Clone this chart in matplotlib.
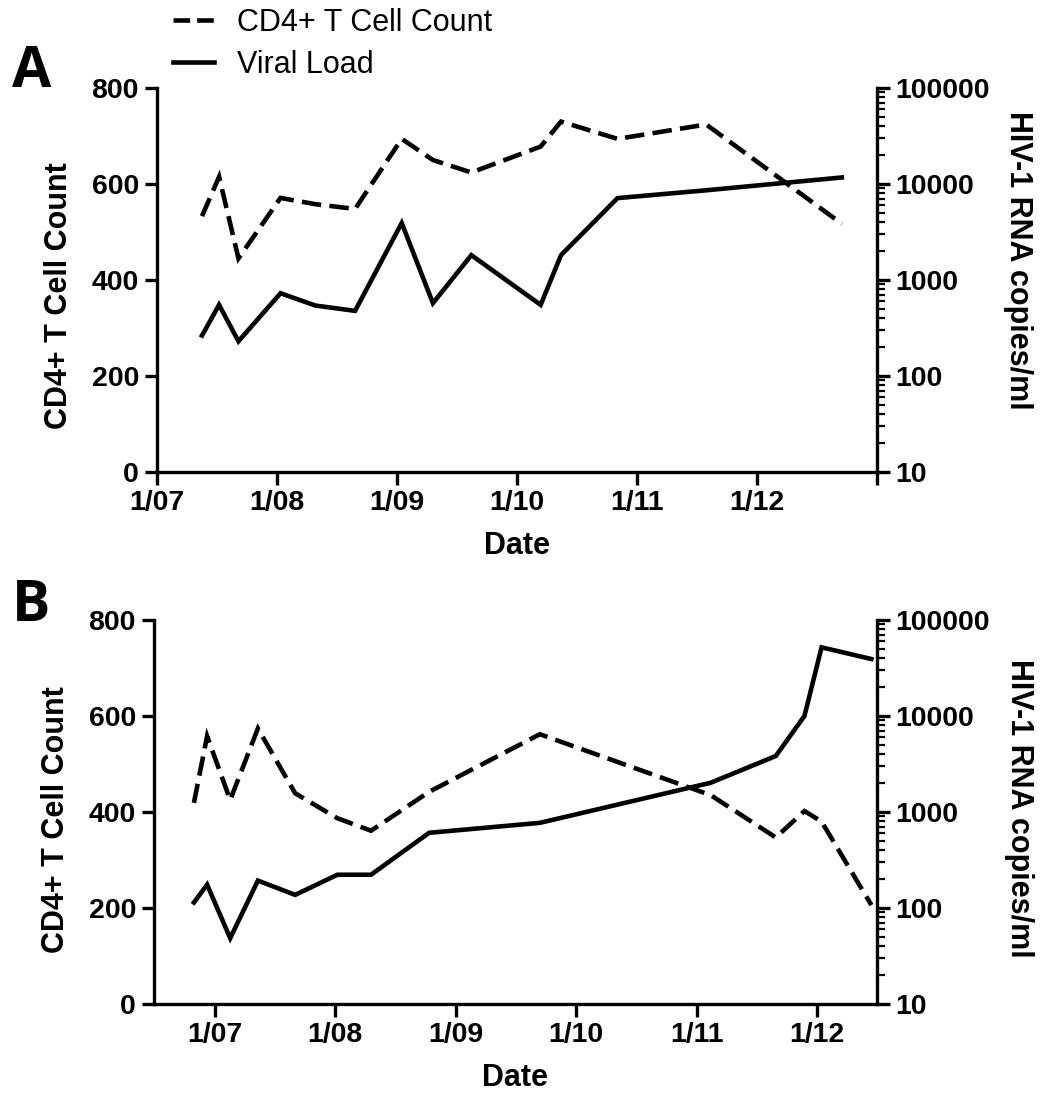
import matplotlib
matplotlib.use('Agg')
import matplotlib.pyplot as plt
import matplotlib.ticker as mticker
from matplotlib.lines import Line2D
import pandas as pd

plt.rcParams['font.family'] = ['Liberation Sans', 'DejaVu Sans']
plt.rcParams['lines.scale_dashes'] = False

# ---------------- data ----------------
a_dates = ['2007-05-18', '2007-07-09', '2007-09-06', '2008-01-12', '2008-04-27',
           '2008-08-26', '2009-01-15', '2009-04-20', '2009-08-15', '2010-03-14',
           '2010-05-15', '2010-11-03', '2011-07-31', '2012-09-16']
a_cd4 = [533, 615, 445, 571, 558, 548, 694, 650, 624, 678, 730, 694, 724, 517]
a_vl = [264, 551, 230, 728, 542, 477, 3925, 574, 1815, 551, 1815, 7130, 8600, 11700]

b_dates = ['2006-10-30', '2006-12-09', '2007-02-17', '2007-05-12', '2007-09-02',
           '2008-01-08', '2008-04-19', '2008-10-12', '2009-09-13', '2011-02-13',
           '2011-08-29', '2011-11-24', '2012-01-15', '2012-06-14']
b_cd4 = [419, 558, 425, 574, 439, 387, 361, 442, 562, 435, 347, 402, 380, 206]
b_vl = [114, 175, 48.5, 193, 137, 222, 222, 607, 771, 2018, 3828, 10000, 51900, 39200]

a_xlim = ['2007-01-01', '2013-01-01']
b_xlim = ['2006-07-01', '2012-07-01']
a_xticks = ['2007-01-01', '2008-01-01', '2009-01-01', '2010-01-01', '2011-01-01',
            '2012-01-01', '2013-01-01']
a_xticklabels = ['1/07', '1/08', '1/09', '1/10', '1/11', '1/12', '']
b_xticks = ['2007-01-01', '2008-01-01', '2009-01-01', '2010-01-01', '2011-01-01',
            '2012-01-01']
b_xticklabels = ['1/07', '1/08', '1/09', '1/10', '1/11', '1/12']
cd4_ticks = [0, 200, 400, 600, 800]
vl_ticks = [10, 100, 1000, 10000, 100000]
vl_ticklabels = ['10', '100', '1000', '10000', '100000']

legend_labels = ['CD4+ T Cell Count', 'Viral Load']
panel_labels = ['A', 'B']

# ---------------- style ----------------
W, H = 1043, 1096
fig = plt.figure(figsize=(W / 100, H / 100), dpi=100)

LW = 3.3
SPW = 2.4
DASH = (14, 6)
TICKFS = 20.5
LABFS = 22


def make_panel(rect, dates, cd4, vl, xlim, xticks, xticklabels,
               ylab_y, y2lab_y, letter, letter_pos):
    ax = fig.add_axes(rect)
    ax2 = ax.twinx()
    d = pd.to_datetime(dates)
    l1, = ax.plot(d, cd4, color='black', lw=LW, ls=(0, DASH),
                  solid_joinstyle='miter', dash_joinstyle='miter')
    l2, = ax2.plot(d, vl, color='black', lw=LW, solid_joinstyle='miter')
    ax.set_xlim(pd.to_datetime(xlim[0]), pd.to_datetime(xlim[1]))
    ax.set_ylim(0, 800)
    ax.set_yticks(cd4_ticks)
    ax.set_xticks(pd.to_datetime(xticks))
    ax.set_xticklabels(xticklabels)
    ax2.set_yscale('log')
    ax2.set_ylim(10, 100000)
    ax2.yaxis.set_major_locator(mticker.FixedLocator(vl_ticks))
    ax2.yaxis.set_major_formatter(mticker.FixedFormatter(vl_ticklabels))
    ax2.yaxis.set_minor_locator(mticker.LogLocator(base=10, subs=range(2, 10), numticks=20))
    ax2.yaxis.set_minor_formatter(mticker.NullFormatter())

    for a in (ax, ax2):
        a.spines['top'].set_visible(False)
        for s in a.spines.values():
            s.set_linewidth(SPW)
        a.tick_params(which='major', direction='out', length=9, width=SPW,
                      labelsize=TICKFS, pad=4)
        a.tick_params(which='minor', direction='out', length=5.5, width=1.6)
    ax.spines['right'].set_visible(False)
    ax2.spines['left'].set_visible(False)
    ax2.spines['bottom'].set_visible(False)
    for t in ax.get_xticklabels() + ax.get_yticklabels() + ax2.get_yticklabels():
        t.set_fontweight('bold')

    ax.set_ylabel('CD4+ T Cell Count', fontsize=LABFS, fontweight='bold')
    ax.yaxis.set_label_coords(-0.115, ylab_y)
    ax2.set_ylabel('HIV-1 RNA copies/ml', fontsize=LABFS, fontweight='bold',
                   rotation=270, va='bottom')
    ax2.yaxis.set_label_coords(1.175, y2lab_y)
    ax.set_xlabel('Date', fontsize=LABFS, fontweight='bold', labelpad=11)

    fig.text(letter_pos[0] / W, 1 - letter_pos[1] / H, letter,
             fontsize=41, fontweight='bold', family=['Open Sans', 'DejaVu Sans'],
             ha='left', va='baseline')
    return ax, l1, l2


axA, la1, la2 = make_panel([157 / W, 1 - 472 / H, 720 / W, 384 / H],
                           a_dates, a_cd4, a_vl, a_xlim, a_xticks, a_xticklabels,
                           0.46, 0.55, panel_labels[0], (12, 87))
axB, lb1, lb2 = make_panel([154 / W, 1 - 1004 / H, 723 / W, 384 / H],
                           b_dates, b_cd4, b_vl, b_xlim, b_xticks, b_xticklabels,
                           0.48, 0.51, panel_labels[1], (12, 621))

h1 = Line2D([], [], color='black', lw=LW, ls=(0, (12, 5)))
h2 = Line2D([], [], color='black', lw=LW)
fig.legend([h1, h2], legend_labels, loc='upper left',
           bbox_to_anchor=(173 / W, 1 - 8 / H), frameon=False,
           fontsize=22, handlelength=1.35, handletextpad=0.75,
           labelspacing=0.38, borderpad=0, borderaxespad=0)

fig.savefig('out.png', dpi=100)
